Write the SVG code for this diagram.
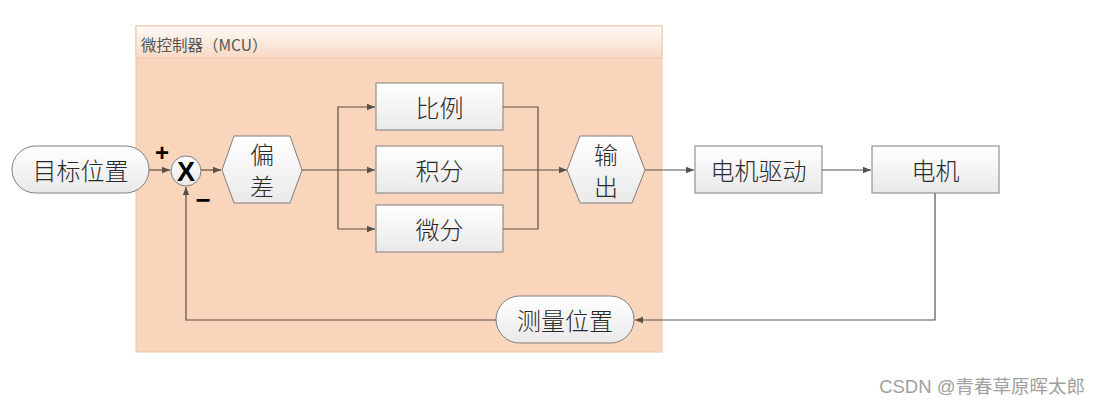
<svg xmlns="http://www.w3.org/2000/svg" width="1099" height="405" viewBox="0 0 1099 405">
<style>
.box{fill:url(#g);stroke:#7f7f7f;stroke-width:1}
.t{font-family:"Noto Sans CJK SC","Noto Sans",sans-serif;font-size:24px;font-weight:300;fill:#2a2a2a;text-anchor:middle;dominant-baseline:central}
.c{fill:none;stroke:#5a5048;stroke-width:1.2}
</style>
<defs>
<linearGradient id="g" x1="0" y1="0" x2="0" y2="1"><stop offset="0" stop-color="#ffffff"/><stop offset="1" stop-color="#e9e9e9"/></linearGradient>
<linearGradient id="h" x1="0" y1="0" x2="0" y2="1"><stop offset="0" stop-color="#fffaf6"/><stop offset="1" stop-color="#f7d9c4"/></linearGradient>
<marker id="a" viewBox="0 0 10 10" refX="10" refY="5" markerWidth="8" markerHeight="8" orient="auto" markerUnits="userSpaceOnUse"><path d="M0,1 L10,5 L0,9 Z" fill="#5a5048"/></marker>
</defs>
<rect width="1099" height="405" fill="#ffffff"/>
<g id="mcu">
<rect x="136" y="26" width="526" height="326" fill="#f8d5bb" stroke="#f0c6a8"/>
<rect x="136" y="26" width="526" height="32" fill="url(#h)" stroke="#f0c6a8"/>
<text x="141" y="44" font-family="'Noto Sans CJK SC',sans-serif" font-size="15.5" fill="#555" dominant-baseline="central">微控制器（MCU）</text>
</g>
<g id="connectors">
<path class="c" d="M148,170 H170" marker-end="url(#a)"/>
<path class="c" d="M201,170 H221" marker-end="url(#a)"/>
<path class="c" d="M302,170 H375" marker-end="url(#a)"/>
<path class="c" d="M338,229 V107 H375" marker-end="url(#a)"/>
<path class="c" d="M338,229 H375" marker-end="url(#a)"/>
<path class="c" d="M503,107 H538 V229 H503"/>
<path class="c" d="M503,170 H567" marker-end="url(#a)"/>
<path class="c" d="M645,170 H694" marker-end="url(#a)"/>
<path class="c" d="M822,170 H871" marker-end="url(#a)"/>
<path class="c" d="M935,193 V320 H635" marker-end="url(#a)"/>
<path class="c" d="M496,320 H186 V187" marker-end="url(#a)"/>
</g>
<g id="target">
<rect class="box" x="12" y="146" width="137" height="47" rx="23.5"/>
<text class="t" x="80.5" y="169.5">目标位置</text>
</g>
<g id="sum">
<circle cx="186" cy="171" r="15" fill="url(#g)" stroke="#7f7f7f"/>
<text x="186" y="172" font-family="'Liberation Sans',sans-serif" font-size="27" font-weight="bold" fill="#000" text-anchor="middle" dominant-baseline="central">X</text>
<text x="162" y="152" font-family="'Liberation Sans',sans-serif" font-size="24" font-weight="bold" fill="#000" text-anchor="middle" dominant-baseline="central">+</text>
<text x="203" y="200" font-family="'Liberation Sans',sans-serif" font-size="26" font-weight="bold" fill="#000" text-anchor="middle" dominant-baseline="central">−</text>
</g>
<g id="error">
<polygon class="box" points="222,170 234,136 290,136 302,170 290,203 234,203"/>
<text class="t" x="262" y="153">偏</text>
<text class="t" x="262" y="185">差</text>
</g>
<g id="p">
<rect class="box" x="376" y="83" width="127" height="47"/>
<text class="t" x="439.5" y="106.5">比例</text>
</g>
<g id="i">
<rect class="box" x="376" y="146" width="127" height="47"/>
<text class="t" x="439.5" y="169.5">积分</text>
</g>
<g id="d">
<rect class="box" x="376" y="205" width="127" height="47"/>
<text class="t" x="439.5" y="228.5">微分</text>
</g>
<g id="out">
<polygon class="box" points="567,170 580,136 632,136 645,170 632,203 580,203"/>
<text class="t" x="606" y="153">输</text>
<text class="t" x="606" y="185">出</text>
</g>
<g id="driver">
<rect class="box" x="695" y="146" width="127" height="47"/>
<text class="t" x="758.5" y="169.5">电机驱动</text>
</g>
<g id="motor">
<rect class="box" x="872" y="146" width="127" height="47"/>
<text class="t" x="935.5" y="169.5">电机</text>
</g>
<g id="measure">
<rect class="box" x="496" y="296" width="138" height="47" rx="23.5"/>
<text class="t" x="565" y="319.5">测量位置</text>
</g>
<text x="1085" y="386" font-family="'Liberation Sans','Noto Sans CJK SC',sans-serif" font-size="18.5" fill="#a0a0a0" text-anchor="end" dominant-baseline="central">CSDN @青春草原晖太郎</text>
</svg>
